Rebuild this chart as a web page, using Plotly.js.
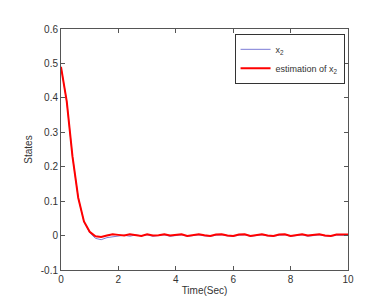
<!DOCTYPE html>
<html><head><meta charset="utf-8">
<script src="https://cdn.plot.ly/plotly-3.0.1.min.js"></script>
<style>html,body{margin:0;padding:0;background:#fff;}#chart{width:380px;height:308px;}</style>
</head><body><div id="chart"></div>
<script>
const time = [0,0.2,0.4,0.6,0.8,1.0,1.2,1.4,1.6,1.8,2.0,2.2,2.4,2.6,2.8,3.0,3.2,3.4,3.6,3.8,4.0,4.2,4.4,4.6,4.8,5.0,5.2,5.4,5.6,5.8,6.0,6.2,6.4,6.6,6.8,7.0,7.2,7.4,7.6,7.8,8.0,8.2,8.4,8.6,8.8,9.0,9.2,9.4,9.6,9.8,10.0];
const x2 = [0.49,0.39,0.23,0.11,0.04,0.008,-0.008,-0.012,-0.006,-0.004,-0.002,0.001,-0.002,0.002,-0.001,0.002,-0.002,0.001,0.002,-0.002,0.000,0.002,-0.002,0.000,0.002,-0.001,-0.002,0.001,0.002,-0.001,-0.002,0.001,0.002,-0.002,0.000,0.002,-0.001,-0.002,0.001,0.002,-0.002,0.000,0.002,-0.002,0.000,0.002,-0.001,-0.002,0.001,0.002,0.001];
const x2est = [0.49,0.39,0.23,0.11,0.041,0.011,-0.002,-0.004,0.000,0.004,0.002,0.000,0.004,0.001,-0.001,0.004,0.000,0.001,0.004,0.000,0.001,0.004,-0.001,0.001,0.004,0.001,-0.001,0.003,0.004,0.000,-0.001,0.003,0.004,-0.001,0.002,0.004,0.000,-0.001,0.003,0.004,-0.001,0.002,0.004,0.000,0.001,0.004,0.000,-0.001,0.003,0.004,0.003];
const xTicks = [0,2,4,6,8,10];
const yTicks = [-0.1,0,0.1,0.2,0.3,0.4,0.5,0.6];

const fnt = {family:'"Liberation Sans", Arial, sans-serif', size:10, color:'#333'};
const traces = [
  {x:time, y:x2, mode:'lines', name:'x<sub>2</sub>', line:{color:'#7b7bd6', width:1}},
  {x:time, y:x2est, mode:'lines', name:'estimation of x<sub>2</sub>', line:{color:'#ff0000', width:2}}
];
const axisCommon = {showgrid:false, zeroline:false, showline:true, linecolor:'#555', linewidth:1, mirror:'ticks', ticks:'inside', ticklen:4, tickcolor:'#555', tickfont:fnt};
const layout = {
  width:380, height:308,
  margin:{l:61, r:32, t:29, b:38},
  paper_bgcolor:'#fff', plot_bgcolor:'#fff',
  font:fnt,
  xaxis:Object.assign({}, axisCommon, {range:[0,10], tickvals:xTicks, ticktext:xTicks.map(String), title:{text:'Time(Sec)', font:fnt, standoff:2}}),
  yaxis:Object.assign({}, axisCommon, {range:[-0.1,0.6], tickvals:yTicks, ticktext:yTicks.map(v=>String(v)), title:{text:'States', font:fnt, standoff:6}}),
  showlegend:true,
  legend:{x:0.988, y:0.98, xanchor:'right', yanchor:'top', bgcolor:'#fff', bordercolor:'#333', borderwidth:1, font:{family:fnt.family, size:9, color:'#333'}, itemwidth:30, tracegroupgap:0}
};
Plotly.newPlot('chart', traces, layout, {displayModeBar:false, staticPlot:true});
</script></body></html>
